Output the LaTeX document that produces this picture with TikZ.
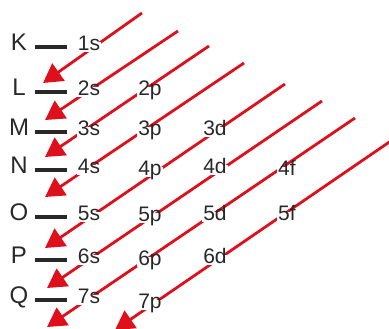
\documentclass[tikz,border=0pt]{standalone}
\usepackage{fontspec}
\setmainfont{Liberation Sans}
\usetikzlibrary{arrows.meta}
\definecolor{arrred}{RGB}{222,16,28}
\definecolor{txt}{RGB}{40,40,40}
\begin{document}
\begin{tikzpicture}[x=1pt, y=-1pt]
    \tikzstyle{shell}=[txt, inner sep=0pt, text height=0.72em, text depth=0pt, font=\fontsize{24}{24}\selectfont]
    \tikzstyle{orb}=[txt, fill=white, inner sep=1.2pt, text height=0.72em, text depth=0pt, font=\fontsize{21}{21}\selectfont]
    \tikzstyle{arr}=[arrred, line width=2.8pt, -{Triangle[length=19pt, width=21pt]}]
    \tikzstyle{bar}=[txt, line width=3.2pt]
    \clip (0,0) rectangle (389,329);
    \fill[white] (0,0) rectangle (389,329);
    % ends of the diagonals
    \coordinate (t1) at (142,13);  \coordinate (h1) at (43,83);
    \coordinate (t2) at (178,31);  \coordinate (h2) at (45,120);
    \coordinate (t3) at (209,46);  \coordinate (h3) at (45,157);
    \coordinate (t4) at (244,63);  \coordinate (h4) at (45,197);
    \coordinate (t5) at (285,84);  \coordinate (h5) at (45,248);
    \coordinate (t6) at (322,101); \coordinate (h6) at (47,288);
    \coordinate (t7) at (355,118); \coordinate (h7) at (47,327);
    \coordinate (t8) at (420,121); \coordinate (h8) at (115,330);
    \draw[arr] (t1) -- (h1);
    \draw[arr] (t2) -- (h2);
    \draw[arr] (t3) -- (h3);
    \draw[arr] (t4) -- (h4);
    \draw[arr] (t5) -- (h5);
    \draw[arr] (t6) -- (h6);
    \draw[arr] (t7) -- (h7);
    \draw[arr] (t8) -- (h8);
    % shells
    \node[shell] (K) at (19,47) {K};
    \node[shell] (L) at (19,92) {L};
    \node[shell] (M) at (19,132) {M};
    \node[shell] (N) at (19,170) {N};
    \node[shell] (O) at (19,217) {O};
    \node[shell] (P) at (19,260) {P};
    \node[shell] (Q) at (19,300) {Q};
    % subshells
    \node[orb] (o1s) at (89,47) {1s};
    \node[orb] (o2s) at (89,92) {2s};
    \node[orb] (o3s) at (89,132) {3s};
    \node[orb] (o4s) at (89,170) {4s};
    \node[orb] (o5s) at (89,217) {5s};
    \node[orb] (o6s) at (89,260) {6s};
    \node[orb] (o7s) at (89,300) {7s};
    \node[orb] (o2p) at (150,92) {2p};
    \node[orb] (o3p) at (150,132) {3p};
    \node[orb] (o4p) at (150,172) {4p};
    \node[orb] (o5p) at (150,218) {5p};
    \node[orb] (o6p) at (150,262) {6p};
    \node[orb] (o7p) at (150,305) {7p};
    \node[orb] (o3d) at (215,132) {3d};
    \node[orb] (o4d) at (215,170) {4d};
    \node[orb] (o5d) at (215,217) {5d};
    \node[orb] (o6d) at (215,260) {6d};
    \node[orb] (o4f) at (287,172) {4f};
    \node[orb] (o5f) at (287,217) {5f};
    % dashes
    \draw[bar] ([xshift=16pt]K.center) -- ([xshift=-22pt]o1s.center);
    \draw[bar] ([xshift=16pt]L.center) -- ([xshift=-22pt]o2s.center);
    \draw[bar] ([xshift=16pt]M.center) -- ([xshift=-22pt]o3s.center);
    \draw[bar] ([xshift=16pt]N.center) -- ([xshift=-22pt]o4s.center);
    \draw[bar] ([xshift=16pt]O.center) -- ([xshift=-22pt]o5s.center);
    \draw[bar] ([xshift=16pt]P.center) -- ([xshift=-22pt]o6s.center);
    \draw[bar] ([xshift=16pt]Q.center) -- ([xshift=-22pt]o7s.center);
\end{tikzpicture}
\end{document}
